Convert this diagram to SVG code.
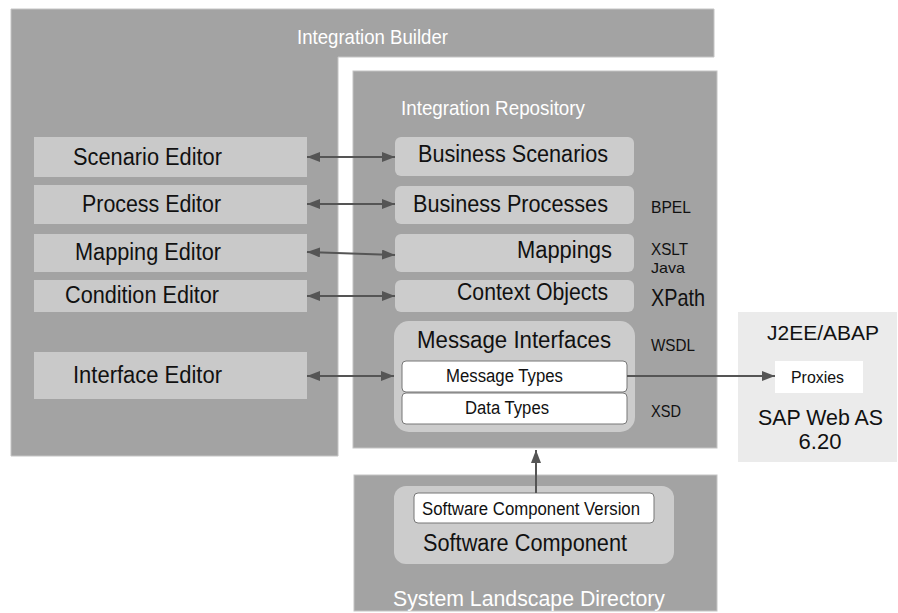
<svg xmlns="http://www.w3.org/2000/svg" width="898" height="613" viewBox="0 0 898 613">
<style>
.cont{fill:#a3a3a3;stroke:#c4c4c4;stroke-width:1}
.ed{fill:#c9c9c9}
.rp{fill:#cccccc}
.wb{fill:#ffffff;stroke:#777777;stroke-width:1}
text{font-family:"Liberation Sans",Arial,sans-serif;fill:#111111}
.t{font-size:23px}
.wt{fill:#ffffff;font-size:21px}
.s{font-size:17px}
.e{text-anchor:end}
.m{text-anchor:middle}
.conn line{stroke:#555555;stroke-width:2;fill:none}
</style>
<defs>
<marker id="ah" markerUnits="userSpaceOnUse" markerWidth="14" markerHeight="12" refX="13" refY="5" orient="auto-start-reverse">
<path d="M0,0 L13,5 L0,10 z" fill="#555555"/>
</marker>
</defs>
<rect width="898" height="613" fill="#ffffff"/>

<g id="integration-builder">
<path class="cont" d="M11,9 H714 V57 H338 V456 H11 Z"/>
<text class="wt" x="297" y="44" textLength="151" lengthAdjust="spacingAndGlyphs">Integration Builder</text>
</g>

<g id="integration-repository">
<rect class="cont" x="353" y="71" width="364" height="377"/>
<text class="wt" x="401" y="115" textLength="184" lengthAdjust="spacingAndGlyphs">Integration Repository</text>
</g>

<g id="system-landscape-directory">
<rect class="cont" x="354" y="475" width="363" height="136"/>
<text x="393" y="606" textLength="272" lengthAdjust="spacingAndGlyphs" style="fill:#ffffff;font-size:22px">System Landscape Directory</text>
</g>

<g id="sap-web-as">
<rect x="738" y="312" width="159" height="150" fill="#ebebeb"/>
<text x="767" y="340" textLength="112" lengthAdjust="spacingAndGlyphs" style="font-size:21px">J2EE/ABAP</text>
<text x="758" y="425" textLength="125" lengthAdjust="spacingAndGlyphs" style="font-size:22px">SAP Web AS</text>
<text class="m" x="820" y="449" style="font-size:22px">6.20</text>
</g>

<g id="proxies">
<rect x="775" y="361" width="88" height="32" fill="#ffffff"/>
<text x="791" y="383" textLength="53" lengthAdjust="spacingAndGlyphs" style="font-size:17px">Proxies</text>
</g>

<g id="scenario-editor">
<rect class="ed" x="34" y="137" width="273" height="40"/>
<text class="t" x="73" y="165" textLength="149" lengthAdjust="spacingAndGlyphs">Scenario Editor</text>
</g>
<g id="process-editor">
<rect class="ed" x="34" y="185" width="273" height="39"/>
<text class="t" x="82" y="212" textLength="139" lengthAdjust="spacingAndGlyphs">Process Editor</text>
</g>
<g id="mapping-editor">
<rect class="ed" x="34" y="234" width="273" height="38"/>
<text class="t" x="75" y="260" textLength="146" lengthAdjust="spacingAndGlyphs">Mapping Editor</text>
</g>
<g id="condition-editor">
<rect class="ed" x="34" y="280" width="273" height="32"/>
<text class="t" x="65" y="303" textLength="154" lengthAdjust="spacingAndGlyphs">Condition Editor</text>
</g>
<g id="interface-editor">
<rect class="ed" x="34" y="352" width="273" height="47"/>
<text class="t" x="73" y="383" textLength="149" lengthAdjust="spacingAndGlyphs">Interface Editor</text>
</g>

<g id="business-scenarios">
<rect class="rp" x="395" y="137" width="239" height="39" rx="6"/>
<text class="t" x="418" y="162" textLength="190" lengthAdjust="spacingAndGlyphs">Business Scenarios</text>
</g>
<g id="business-processes">
<rect class="rp" x="395" y="186" width="239" height="38" rx="6"/>
<text class="t" x="413" y="212" textLength="195" lengthAdjust="spacingAndGlyphs">Business Processes</text>
<text class="s" x="651" y="213" textLength="40" lengthAdjust="spacingAndGlyphs">BPEL</text>
</g>
<g id="mappings">
<rect class="rp" x="395" y="234" width="239" height="38" rx="6"/>
<text class="t" x="517" y="258" textLength="95" lengthAdjust="spacingAndGlyphs">Mappings</text>
<text x="651" y="255" textLength="37" lengthAdjust="spacingAndGlyphs" style="font-size:16px">XSLT</text>
<text x="651" y="273" textLength="34" lengthAdjust="spacingAndGlyphs" style="font-size:15px">Java</text>
</g>
<g id="context-objects">
<rect class="rp" x="395" y="280" width="239" height="32" rx="6"/>
<text class="t" x="457" y="300" textLength="151" lengthAdjust="spacingAndGlyphs">Context Objects</text>
<text x="651" y="306" textLength="54" lengthAdjust="spacingAndGlyphs" style="font-size:24px">XPath</text>
</g>
<g id="message-interfaces">
<rect class="rp" x="394" y="321" width="241" height="111" rx="15"/>
<text class="t" x="417" y="348" textLength="194" lengthAdjust="spacingAndGlyphs">Message Interfaces</text>
<text class="s" x="651" y="351" textLength="44" lengthAdjust="spacingAndGlyphs">WSDL</text>
</g>
<g id="message-types">
<rect class="wb" x="402" y="361" width="225" height="31" rx="4"/>
<text x="446" y="382" textLength="117" lengthAdjust="spacingAndGlyphs" style="font-size:18px">Message Types</text>
</g>
<g id="data-types">
<rect class="wb" x="402" y="393" width="225" height="31" rx="4"/>
<text x="465" y="414" textLength="84" lengthAdjust="spacingAndGlyphs" style="font-size:18px">Data Types</text>
<text class="s" x="651" y="417" textLength="30" lengthAdjust="spacingAndGlyphs">XSD</text>
</g>

<g id="software-component">
<rect class="rp" x="394" y="486" width="280" height="78" rx="12"/>
<text x="423" y="551" textLength="204" lengthAdjust="spacingAndGlyphs" style="font-size:23px">Software Component</text>
</g>
<g id="software-component-version">
<rect class="wb" x="414" y="493" width="240" height="30" rx="4"/>
<text x="422" y="515" textLength="218" lengthAdjust="spacingAndGlyphs" style="font-size:18px">Software Component Version</text>
</g>

<g id="connectors" class="conn">
<line x1="307" y1="157" x2="395" y2="157" marker-start="url(#ah)" marker-end="url(#ah)"/>
<line x1="307" y1="204" x2="395" y2="204" marker-start="url(#ah)" marker-end="url(#ah)"/>
<line x1="307" y1="252" x2="395" y2="255" marker-start="url(#ah)" marker-end="url(#ah)"/>
<line x1="307" y1="296" x2="395" y2="296" marker-start="url(#ah)" marker-end="url(#ah)"/>
<line x1="307" y1="376" x2="394" y2="376" marker-start="url(#ah)" marker-end="url(#ah)"/>
<line x1="627" y1="376" x2="775" y2="376" marker-end="url(#ah)"/>
<line x1="536" y1="493" x2="536" y2="450" marker-end="url(#ah)"/>
</g>
</svg>
